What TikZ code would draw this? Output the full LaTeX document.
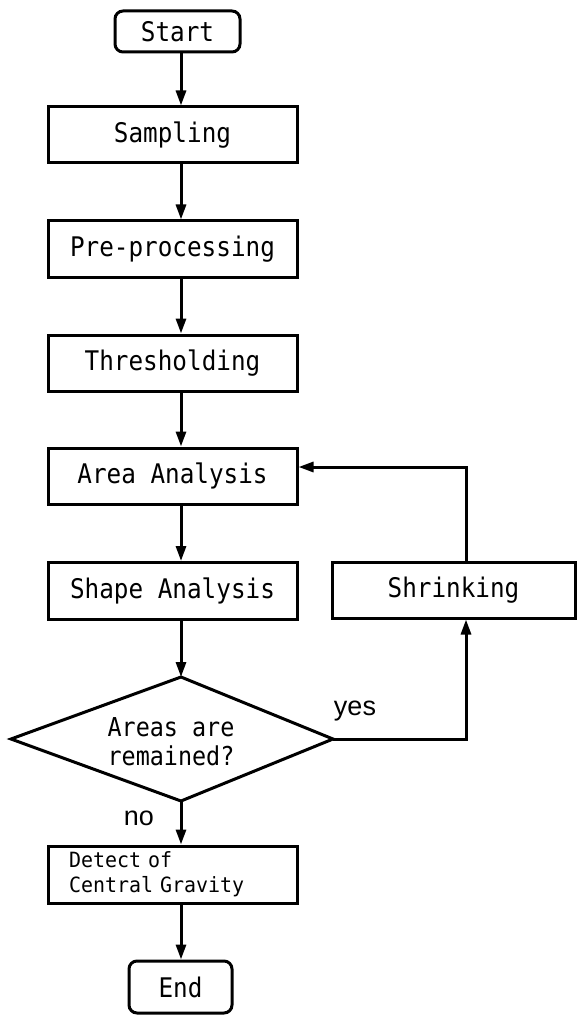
\documentclass[tikz,border=0pt]{standalone}
\usepackage{fontspec}
\usetikzlibrary{arrows.meta}
\setmainfont{Liberation Sans}
\newfontfamily\boxfont[FakeStretch=0.9,WordSpace={1,0,0}]{DejaVu Sans Mono}
\newfontfamily\smallboxfont[FakeStretch=0.95,WordSpace={1,0,0}]{DejaVu Sans Mono}
\begin{document}
\begin{tikzpicture}[x=1pt,y=-1pt,line width=3pt,
  box/.style={draw,rectangle,inner sep=0pt,minimum width=249pt,minimum height=56pt,
    font=\boxfont\fontsize{27}{30}\selectfont},
  term/.style={draw,rectangle,rounded corners=8pt,inner sep=0pt,
    font=\boxfont\fontsize{27}{30}\selectfont},
  flow/.style={-{Triangle[length=15pt,width=10pt]}},
  lbl/.style={inner sep=0pt,font=\fontsize{27}{30}\selectfont}]
\useasboundingbox (0,0) rectangle (576,1016);
\coordinate (ax) at (181,0);
\coordinate (shrx) at (466,0);
\coordinate (fb) at (0,467);
\node[term,minimum width=125pt,minimum height=41pt] (start) at (177.5,31.5) {Start};
\node[box] (samp) at (172.5,135) {Sampling};
\node[box] (pre) at (172.5,249) {Pre-processing};
\node[box] (thr) at (172.5,363) {Thresholding};
\node[box] (area) at (172.5,476) {Area Analysis};
\node[box,minimum height=57pt] (shape) at (172.5,591) {Shape Analysis};
\node[box,minimum width=243pt] (shrink) at (453.5,590) {Shrinking};
\coordinate (dT) at (181,677);
\coordinate (dR) at (333,739);
\coordinate (dB) at (181,801);
\coordinate (dL) at (11,739);
\draw[line join=miter] (dT) -- (dR) -- (dB) -- (dL) -- cycle;
\node[align=center,inner sep=0pt,font=\boxfont\fontsize{26}{29}\selectfont] (dtext) at (171,742) {Areas are\\remained?};
\node[box,minimum height=57pt,text width=207pt,inner xsep=21pt,align=left,
  font=\smallboxfont\fontsize{21}{25}\selectfont] (detect) at (172.5,874.5) {Detect of\\Central Gravity};
\node[term,minimum width=103pt,minimum height=52pt] (end) at (180.5,987) {End};
\node[lbl] (yes) at (355,711) {yes};
\node[lbl] (no) at (139,818) {no};
\draw[flow] (start.south -| ax) -- (samp.north -| ax);
\draw[flow] (samp.south -| ax) -- (pre.north -| ax);
\draw[flow] (pre.south -| ax) -- (thr.north -| ax);
\draw[flow] (thr.south -| ax) -- (area.north -| ax);
\draw[flow] (area.south -| ax) -- (shape.north -| ax);
\draw[flow] (shape.south -| ax) -- (dT);
\draw[flow] (dB) -- (detect.north -| ax);
\draw[flow] (detect.south -| ax) -- (end.north -| ax);
\draw[flow] (dR) -- (dR -| shrx) -- (shrink.south -| shrx);
\draw[flow] (shrink.north -| shrx) -- (shrx |- fb) -- (area.east |- fb);
\end{tikzpicture}
\end{document}
